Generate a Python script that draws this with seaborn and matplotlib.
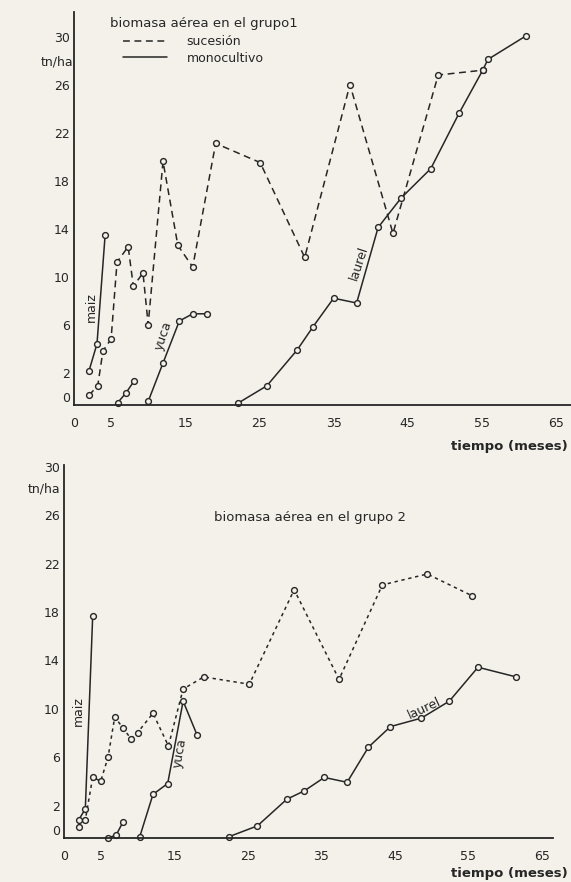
import matplotlib
matplotlib.use("Agg")
import matplotlib.pyplot as plt
import seaborn as sns
from matplotlib.lines import Line2D

sns.set_theme(style="white")
plt.rcParams['font.family'] = ['DejaVu Sans']

BG = "#f3f1ea"
INK = "#262626"

# ---------------- data: group 1 ----------------
g1_suc_x = [2.0, 3.2, 3.9, 5.0, 5.8, 7.3, 8.0, 9.3, 10.0, 12.0, 14.0, 16.0, 19.1, 25.1, 31.1, 37.2, 43.0, 49.1, 55.1]
g1_suc_y = [0.8, 1.6, 4.5, 5.5, 11.9, 13.2, 9.9, 11.0, 6.7, 20.3, 13.3, 11.5, 21.8, 20.2, 12.3, 26.7, 14.3, 27.5, 27.9]
g1_maiz_x = [2.0, 3.1, 4.2]
g1_maiz_y = [2.8, 5.1, 14.2]
g1_maiz2_x = [5.9, 7.0, 8.1]
g1_maiz2_y = [0.2, 1.0, 2.0]
g1_yuca_x = [10.0, 12.0, 14.2, 16.0, 17.9]
g1_yuca_y = [0.3, 3.5, 7.0, 7.6, 7.6]
g1_laurel_x = [22.1, 26.0, 30.1, 32.2, 35.0, 38.1, 41.0, 44.1, 48.1, 51.9, 55.1, 55.8, 60.9]
g1_laurel_y = [0.15, 1.6, 4.6, 6.5, 8.9, 8.5, 14.8, 17.25, 19.7, 24.3, 27.9, 28.8, 30.75]

# ---------------- data: group 2 ----------------
g2_suc_x = [2.0, 2.9, 3.9, 5.0, 6.0, 6.9, 8.0, 9.1, 10.0, 12.1, 14.2, 16.2, 19.0, 25.2, 31.3, 37.4, 43.3, 49.4, 55.5]
g2_suc_y = [0.9, 1.5, 5.0, 4.7, 6.7, 10.0, 9.1, 8.2, 8.7, 10.3, 7.6, 12.3, 13.3, 12.7, 20.5, 13.1, 20.9, 21.8, 20.0]
g2_maiz_x = [2.0, 2.9, 3.9]
g2_maiz_y = [1.5, 2.4, 18.3]
g2_maiz2_x = [6.0, 7.1, 8.0]
g2_maiz2_y = [0.0, 0.25, 1.3]
g2_yuca_x = [10.3, 12.1, 14.1, 16.2, 18.1]
g2_yuca_y = [0.1, 3.6, 4.5, 11.3, 8.5]
g2_laurel_x = [22.4, 26.3, 30.3, 32.7, 35.4, 38.5, 41.4, 44.4, 48.6, 52.4, 56.3, 61.5]
g2_laurel_y = [0.1, 1.0, 3.2, 3.9, 5.0, 4.6, 7.5, 9.2, 9.9, 11.3, 14.1, 13.3]

ytick_vals = [0, 2, 6, 10, 14, 18, 22, 26, 30]
xtick_vals = list(range(0, 70, 5))
xtick_labels = ["0", "5", "", "15", "", "25", "", "35", "", "45", "", "55", "", "65"]

fig = plt.figure(figsize=(5.71, 8.82), dpi=100, facecolor=BG)

ax1 = fig.add_axes([74/571, 1-405/882, (571-74)/571, (405-12)/882])
ax2 = fig.add_axes([64/571, 1-838/882, (553-64)/571, (838-465)/882])


def series(ax, x, y, ls):
    sns.lineplot(x=x, y=y, ax=ax, color=INK, linestyle=ls, linewidth=1.1,
                 marker='o', markersize=4.2, markerfacecolor=BG,
                 markeredgecolor=INK, markeredgewidth=1.0, clip_on=False,
                 estimator=None, sort=False)


dash1 = (0, (4.5, 3))
dash2 = (0, (2.2, 2.4))

series(ax1, g1_suc_x, g1_suc_y, dash1)
series(ax1, g1_maiz_x, g1_maiz_y, '-')
series(ax1, g1_maiz2_x, g1_maiz2_y, '-')
series(ax1, g1_yuca_x, g1_yuca_y, '-')
series(ax1, g1_laurel_x, g1_laurel_y, '-')

series(ax2, g2_suc_x, g2_suc_y, dash2)
series(ax2, g2_maiz_x, g2_maiz_y, '-')
series(ax2, g2_maiz2_x, g2_maiz2_y, '-')
series(ax2, g2_yuca_x, g2_yuca_y, '-')
series(ax2, g2_laurel_x, g2_laurel_y, '-')

for ax, ylim, xlim in [(ax1, (0, 32.75), (0, 67)), (ax2, (0, 30.8), (0, 66.5))]:
    ax.set_facecolor(BG)
    ax.set_xlim(*xlim)
    ax.set_ylim(*ylim)
    ax.set_xticks(xtick_vals)
    ax.set_xticklabels(xtick_labels)
    ax.set_yticks(ytick_vals)
    ax.set_yticklabels([str(v) for v in ytick_vals])
    for lab in ax.get_yticklabels():
        lab.set_verticalalignment('bottom')
    ax.tick_params(axis='x', direction='inout', length=5, width=1.1, colors=INK,
                   labelsize=9, pad=6)
    ax.tick_params(axis='y', direction='out', length=2, width=1.1, colors=INK,
                   labelsize=9, pad=1)
    for s in ['top', 'right']:
        ax.spines[s].set_visible(False)
    for s in ['left', 'bottom']:
        ax.spines[s].set_color(INK)
        ax.spines[s].set_linewidth(1.3)
    ax.set_xlabel("")
    ax.set_ylabel("")
    ax.grid(False)

# curve labels
lab_kw = dict(color=INK, fontsize=9, ha='center', va='center')
ax1.text(2.3, 8.2, "maiz", rotation=90, **lab_kw)
ax1.text(12.0, 5.75, "yuca", rotation=71, **lab_kw)
ax1.text(38.4, 11.8, "laurel", rotation=72, **lab_kw)
ax2.text(2.0, 10.5, "maiz", rotation=90, **lab_kw)
ax2.text(15.8, 7.0, "yuca", rotation=80, **lab_kw)
ax2.text(49.0, 10.7, "laurel", rotation=25, **lab_kw)

# titles / axis texts
fig.text(110/571, 1-23/882, "biomasa aérea en el grupo1", ha='left', va='center',
         fontsize=9.5, color=INK)
fig.text(310/571, 1-517/882, "biomasa aérea en el grupo 2", ha='center', va='center',
         fontsize=9.5, color=INK)
fig.text(73/571, 1-62/882, "tn/ha", ha='right', va='center', fontsize=9, color=INK)
fig.text(60/571, 1-489/882, "tn/ha", ha='right', va='center', fontsize=9, color=INK)
fig.text(568/571, 1-446/882, "tiempo (meses)", ha='right', va='center', fontsize=9.5,
         color=INK, fontweight='semibold')
fig.text(568/571, 1-873/882, "tiempo (meses)", ha='right', va='center', fontsize=9.5,
         color=INK, fontweight='semibold')

# legend
handles = [Line2D([], [], color=INK, linestyle=dash1, linewidth=1.1),
           Line2D([], [], color=INK, linestyle='-', linewidth=1.1)]
ax1.legend(handles, ["sucesión", "monocultivo"], loc='upper left',
           bbox_to_anchor=(123/571, 1-35/882), bbox_transform=fig.transFigure,
           frameon=False, fontsize=9, handlelength=3.5, handletextpad=1.6,
           labelspacing=0.3, borderpad=0, borderaxespad=0, labelcolor=INK)

fig.savefig("out.png", dpi=100, facecolor=BG)
